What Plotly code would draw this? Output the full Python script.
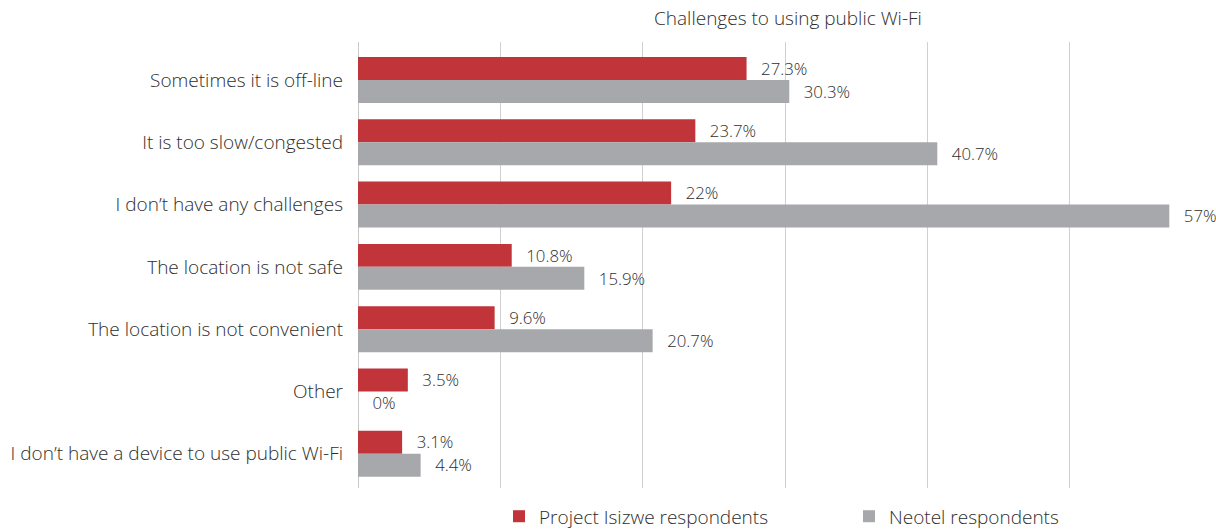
import plotly.graph_objects as go

categories = [
    "Sometimes it is off-line",
    "It is too slow/congested",
    "I don’t have any challenges",
    "The location is not safe",
    "The location is not convenient",
    "Other",
    "I don’t have a device to use public Wi-Fi",
]
isizwe = [27.3, 23.7, 22, 10.8, 9.6, 3.5, 3.1]
neotel = [30.3, 40.7, 57, 15.9, 20.7, 0, 4.4]
series_names = ["Project Isizwe respondents", "Neotel respondents"]
title_text = "Challenges to using public Wi-Fi"

RED = "#C0343A"
GREY = "#A7A8AB"
TXT = "#2E2E2E"
FONT = "Open Sans"

def labels(vals):
    return ["  \u2009" + f"{v:g}%" for v in vals]

fig = go.Figure()
for name, vals, col in [(series_names[0], isizwe, RED), (series_names[1], neotel, GREY)]:
    fig.add_trace(go.Bar(
        y=categories, x=vals, name=name, orientation="h",
        marker=dict(color=col, line=dict(width=0)),
        text=labels(vals), textposition="outside", cliponaxis=False,
        textfont=dict(family=FONT, size=19, color=TXT, weight=300),
        hoverinfo="skip",
    ))

fig.update_layout(
    width=1216, height=529,
    margin=dict(l=358, r=4, t=42, b=41, autoexpand=False),
    paper_bgcolor="white", plot_bgcolor="white",
    barmode="group", bargap=0.262, bargroupgap=0,
    font=dict(family=FONT, color=TXT, size=18, weight=300),
    title=dict(text=title_text, x=0.648, xanchor="center", y=0.966, yanchor="middle",
               font=dict(family=FONT, size=19, color=TXT, weight=300)),
    showlegend=True,
    legend=dict(orientation="h", x=(499 - 358) / 854, xanchor="left", y=-0.021, yanchor="top",
                entrywidth=305, font=dict(family=FONT, size=19, color=TXT, weight=300),
                traceorder="normal"),
    xaxis=dict(range=[0, 60], dtick=10, showgrid=True, gridcolor="#D0D0D0", gridwidth=1,
               showticklabels=False, zeroline=True, zerolinecolor="#C8C8C8", zerolinewidth=1,
               showline=False, fixedrange=True),
    yaxis=dict(range=[6.55, -0.61], showgrid=False, ticks="", ticklabelstandoff=14,
               tickfont=dict(family=FONT, size=19, color=TXT, weight=300), showline=False),
)

fig.write_html("out.html")
